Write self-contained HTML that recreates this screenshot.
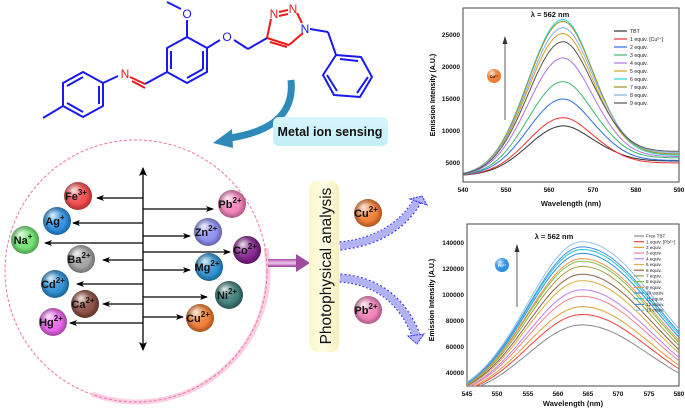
<!DOCTYPE html>
<html><head><meta charset="utf-8"><style>
html,body{margin:0;padding:0;background:#fff;width:685px;height:408px;overflow:hidden}
svg{display:block;font-family:"Liberation Sans",Arial,sans-serif}
.b{font-weight:bold}
</style></head><body>
<svg id="s" width="685" height="408" viewBox="0 0 685 408" xmlns="http://www.w3.org/2000/svg">
<defs>
<radialGradient id="hl" cx="0.35" cy="0.3" r="0.6"><stop offset="0" stop-color="#fff" stop-opacity="0.85"/><stop offset="0.5" stop-color="#fff" stop-opacity="0.15"/><stop offset="1" stop-color="#fff" stop-opacity="0"/></radialGradient>
<radialGradient id="sh" cx="0.5" cy="0.5" r="0.5"><stop offset="0.6" stop-color="#000" stop-opacity="0"/><stop offset="1" stop-color="#000" stop-opacity="0.3"/></radialGradient>
<linearGradient id="yb" x1="0" x2="1"><stop offset="0" stop-color="#fbf6c8"/><stop offset="0.5" stop-color="#fffde8"/><stop offset="1" stop-color="#f8f0b8"/></linearGradient>
<linearGradient id="cb" x1="0" y1="0" x2="0" y2="1"><stop offset="0" stop-color="#d8f6fc"/><stop offset="1" stop-color="#c2eef8"/></linearGradient>
<linearGradient id="pa" x1="0" y1="0" x2="0" y2="1"><stop offset="0" stop-color="#b050a8"/><stop offset="0.5" stop-color="#f0c8ec"/><stop offset="1" stop-color="#9a3a96"/></linearGradient>
<marker id="ah" markerWidth="8" markerHeight="6" refX="7" refY="3" orient="auto" markerUnits="userSpaceOnUse"><path d="M0,0 L8,3 L0,6 L2,3Z" fill="#000"/></marker>
<marker id="ah2" markerWidth="9" markerHeight="8" refX="8" refY="4" orient="auto-start-reverse" markerUnits="userSpaceOnUse"><path d="M0,0 L9,4 L0,8 L2,4Z" fill="#000"/></marker>
<clipPath id="c1"><rect x="463" y="8" width="216" height="174"/></clipPath>
<clipPath id="c2"><rect x="467" y="224" width="212" height="162"/></clipPath>
</defs>

<!-- molecule -->
<g fill="none" stroke="#1a1aee" stroke-width="2" stroke-linejoin="round">
<polygon points="63,83 83,72 103,83 103,106 83,117 63,106"/>
<line x1="67" y1="86" x2="83" y2="77"/><line x1="99" y1="86" x2="99" y2="104"/><line x1="67" y1="103" x2="83" y2="112"/>
<line x1="63" y1="106" x2="43" y2="118"/>
<line x1="103" y1="83" x2="118" y2="76"/>
<polygon points="167,48 187,37 207,48 207,72 187,83 167,72"/>
<line x1="171" y1="51" x2="171" y2="69"/><line x1="203" y1="51" x2="203" y2="69"/><line x1="187" y1="78" x2="203" y2="69"/>
<line x1="145" y1="84" x2="167" y2="72"/>
<line x1="187" y1="37" x2="187" y2="20"/><line x1="181" y1="9" x2="167" y2="2"/>
<line x1="207" y1="48" x2="220" y2="40"/><line x1="234" y1="40" x2="248" y2="49"/><line x1="248" y1="49" x2="267" y2="38"/>
<line x1="310" y1="29" x2="328" y2="32"/><line x1="328" y1="32" x2="336" y2="55"/>
<polygon points="336,55 361,57 372,77 360,97 334,95 323,75"/>
<line x1="340" y1="59" x2="358" y2="61"/><line x1="368" y1="77" x2="357" y2="93"/><line x1="327" y1="75" x2="337" y2="91"/>
</g>
<g fill="none" stroke="#ee1a1a" stroke-width="2">
<line x1="130" y1="77" x2="145" y2="84"/><line x1="132" y1="81" x2="145" y2="88"/>
<line x1="267" y1="38" x2="271" y2="19"/><line x1="267" y1="38" x2="289" y2="45"/><line x1="270" y1="42" x2="287" y2="47"/>
<line x1="289" y1="45" x2="303" y2="33"/>
<line x1="279" y1="12" x2="288" y2="10"/><line x1="279" y1="16" x2="288" y2="14"/>
<line x1="297" y1="13" x2="302" y2="23"/>
</g>
<g font-size="12" text-anchor="middle">
<text x="125" y="78" fill="#ee1a1a">N</text>
<text x="187" y="18" fill="#1a1aee">O</text>
<text x="227" y="41" fill="#1a1aee">O</text>
<text x="274" y="18" fill="#ee1a1a">N</text>
<text x="293" y="13" fill="#ee1a1a">N</text>
<text x="305" y="33" fill="#1a1aee">N</text>
</g>

<!-- blue curved arrow -->
<path d="M291,80 Q296,128 230,138" fill="none" stroke="#2e8ab8" stroke-width="7"/>
<path d="M232,129 L213,143 L233,148Z" fill="#2e8ab8"/>
<rect x="273" y="117" width="115" height="29" rx="6" fill="url(#cb)"/>
<text x="330" y="136" font-size="12.5" class="b" text-anchor="middle" fill="#111">Metal ion sensing</text>

<!-- circle -->
<path d="M266,248 A131,131 0 0 1 92,394" fill="none" stroke="#fbd0e4" stroke-width="5"/>
<circle cx="136" cy="271" r="131" fill="none" stroke="#f070a8" stroke-width="1" stroke-dasharray="3 2"/>

<!-- axis -->
<g stroke="#000" stroke-width="1.3">
<line x1="143" y1="168" x2="143" y2="350" marker-start="url(#ah2)" marker-end="url(#ah2)"/>
<line x1="143" y1="198" x2="97" y2="198" marker-end="url(#ah)"/>
<line x1="143" y1="223" x2="73" y2="223" marker-end="url(#ah)"/>
<line x1="143" y1="243" x2="45" y2="243" marker-end="url(#ah)"/>
<line x1="143" y1="260" x2="103" y2="260" marker-end="url(#ah)"/>
<line x1="143" y1="284" x2="77" y2="284" marker-end="url(#ah)"/>
<line x1="143" y1="304" x2="103" y2="304" marker-end="url(#ah)"/>
<line x1="143" y1="323" x2="70" y2="323" marker-end="url(#ah)"/>
<line x1="143" y1="209" x2="213" y2="209" marker-end="url(#ah)"/>
<line x1="143" y1="236" x2="190" y2="236" marker-end="url(#ah)"/>
<line x1="143" y1="252" x2="230" y2="252" marker-end="url(#ah)"/>
<line x1="143" y1="270" x2="190" y2="270" marker-end="url(#ah)"/>
<line x1="143" y1="297" x2="207" y2="297" marker-end="url(#ah)"/>
<line x1="143" y1="317" x2="183" y2="317" marker-end="url(#ah)"/>
</g>

<g id="balls" font-size="11" class="b" text-anchor="middle"></g>

<!-- purple arrow -->
<rect x="268" y="259" width="30" height="8" fill="url(#pa)"/>
<path d="M296,254 L310,263 L296,272Z" fill="#a04aa0"/>
<rect x="309" y="181" width="30" height="171" rx="8" fill="url(#yb)"/>
<text transform="translate(331,266) rotate(-90)" font-size="15.5" text-anchor="middle" fill="#111">Photophysical analysis</text>

<!-- dashed blue arrows -->
<path d="M340,246 Q395,240 418,200" fill="none" stroke="#2a2aee" stroke-width="9" stroke-dasharray="2 2"/>
<path d="M340,246 Q395,240 418,200" fill="none" stroke="#b2b2f6" stroke-width="7"/>
<path d="M410,199 L422,196 L427,205Z" fill="#b2b2f6" stroke="#2a2aee" stroke-dasharray="2 1"/>
<path d="M340,278 Q395,282 416,335" fill="none" stroke="#2a2aee" stroke-width="9" stroke-dasharray="2 2"/>
<path d="M340,278 Q395,282 416,335" fill="none" stroke="#b2b2f6" stroke-width="7"/>
<path d="M408,336 L417,344 L424,334Z" fill="#b2b2f6" stroke="#2a2aee" stroke-dasharray="2 1"/>

<!-- top chart -->
<rect x="463" y="8" width="216" height="174" fill="none" stroke="#444" stroke-width="1"/>
<g id="curves1" clip-path="url(#c1)" fill="none" stroke-width="1"></g>
<g font-size="6.5" class="b" fill="#111" text-anchor="end">
<text x="460" y="165">5000</text><text x="460" y="133">10000</text><text x="460" y="101">15000</text><text x="460" y="69">20000</text><text x="460" y="37">25000</text>
</g>
<g font-size="6.5" class="b" fill="#111" text-anchor="middle">
<text x="463" y="192">540</text><text x="506" y="192">550</text><text x="549" y="192">560</text><text x="593" y="192">570</text><text x="636" y="192">580</text><text x="679" y="192">590</text>
<text x="571" y="206" font-size="7.5">Wavelength (nm)</text>
<text x="550" y="17" font-size="7.5">λ = 562 nm</text>
</g>
<text transform="translate(435,95) rotate(-90)" font-size="7" class="b" text-anchor="middle">Emission Intensity (A.U.)</text>
<line x1="505" y1="120" x2="505" y2="37" stroke="#333" stroke-width="0.8"/>
<path d="M502.5,44 L505,36 L507.5,44Z" fill="#333"/>
<circle cx="494" cy="76" r="7" fill="#f07a30"/><circle cx="494" cy="76" r="7" fill="url(#hl)"/>
<text x="494" y="78" font-size="4" text-anchor="middle" class="b">Cu²⁺</text>
<g id="leg1" font-size="5.2" fill="#222"></g>

<!-- bottom chart -->
<rect x="467" y="224" width="212" height="162" fill="none" stroke="#444" stroke-width="1"/>
<g id="curves2" clip-path="url(#c2)" fill="none" stroke-width="1"></g>
<g font-size="6.5" class="b" fill="#111" text-anchor="end">
<text x="464" y="375">40000</text><text x="464" y="349">60000</text><text x="464" y="323">80000</text><text x="464" y="297">100000</text><text x="464" y="271">120000</text><text x="464" y="245">140000</text>
</g>
<g font-size="6.5" class="b" fill="#111" text-anchor="middle">
<text x="467" y="396">545</text><text x="497" y="396">550</text><text x="528" y="396">555</text><text x="558" y="396">560</text><text x="588" y="396">565</text><text x="618" y="396">570</text><text x="649" y="396">575</text><text x="679" y="396">580</text>
<text x="573" y="406" font-size="7.5">Wavelength (nm)</text>
<text x="554" y="239" font-size="7.5">λ = 562 nm</text>
</g>
<text transform="translate(434,300) rotate(-90)" font-size="7" class="b" text-anchor="middle">Emission Intensity (A.U.)</text>
<line x1="517" y1="307" x2="517" y2="245" stroke="#333" stroke-width="0.8"/>
<path d="M514.5,252 L517,244 L519.5,252Z" fill="#333"/>
<circle cx="502" cy="265" r="7" fill="#2a8ee0"/><circle cx="502" cy="265" r="7" fill="url(#hl)"/>
<text x="502" y="267" font-size="4" text-anchor="middle" class="b" fill="#fff">Pb²⁺</text>
<g id="leg2" font-size="4.6" fill="#222"></g>
<g display="none">TBT 1 equiv. [Cu²⁺] Free TBT [Pb²⁺] equiv.</g>
</svg>
<script>
var NS="http://www.w3.org/2000/svg";
function el(t,a,p){var e=document.createElementNS(NS,t);for(var k in a)e.setAttribute(k,a[k]);p.appendChild(e);return e;}
var bg=document.getElementById("balls");
var balls=[["Fe","3+",78,196,"#f04848"],["Ag","+",57,221,"#2a8ee0"],["Na","+",25,240,"#6ee06e"],["Ba","2+",81,259,"#a0a0a0"],["Cd","2+",55,284,"#2a8cd0"],["Ca","2+",85,304,"#8a4a3e"],["Hg","2+",53,322,"#e860e8"],["Pb","2+",232,204,"#f080b8"],["Zn","2+",208,232,"#8a8ef0"],["Co","2+",247,250,"#80208a"],["Mg","2+",209,267,"#2a90d0"],["Ni","2+",229,295,"#3c7a78"],["Cu","2+",200,318,"#f07a30"],["Cu","2+",368,213,"#f07a30"],["Pb","2+",368,310,"#f080b8"]];
balls.forEach(function(b){
 el("circle",{cx:b[2],cy:b[3],r:14,fill:b[4]},bg);
 el("circle",{cx:b[2],cy:b[3],r:14,fill:"url(#hl)"},bg);
 el("circle",{cx:b[2],cy:b[3],r:14,fill:"url(#sh)"},bg);
 var t=el("text",{x:b[2]-2,y:b[3]+4,fill:"#111"},bg);
 t.appendChild(document.createTextNode(b[0]));
 var s=el("tspan",{dy:-5,"font-size":8},t);s.appendChild(document.createTextNode(b[1]));
});
var c1=document.getElementById("curves1");
var col1=["#333","#f03030","#2a6ee8","#40b870","#b070e8","#d8a020","#20d8d8","#a09020","#80b0e8","#555"];
var pk1=[10700,12000,14900,17600,21300,25100,27300,27000,26000,23800];
var tl1=[2300,2000,2400,2800,3000,3300,3200,3400,3600,3800];
var lg1=document.getElementById("leg1");
var names1=["TBT","1 equiv. [Cu²⁺]","2 equiv.","3 equiv.","4 equiv.","5 equiv.","6 equiv.","7 equiv.","8 equiv.","9 equiv."];
pk1.forEach(function(P,i){
 var d="";
 for(var x=540;x<=590.01;x+=0.5){
  var s=x<563?8:7.2;var g=Math.exp(-Math.pow(x-563,2)/(2*s*s));
  var tail=tl1[i]/(1+Math.exp(-(x-571)/2.5));
  var v=3000+(P-3000)*g+tail;
  var px=463+(x-540)*4.32, py=163-(v-5000)/5000*32;
  d+=(d?"L":"M")+px.toFixed(1)+","+py.toFixed(1);
 }
 el("path",{d:d,stroke:col1[i]},c1);
 var y=31+i*8;
 el("line",{x1:614,y1:y,x2:627,y2:y,stroke:col1[i],"stroke-width":1.2},lg1);
 var t=el("text",{x:630,y:y+2},lg1);t.appendChild(document.createTextNode(names1[i]));
});
var c2=document.getElementById("curves2");
var col2=["#888","#f04040","#e0a030","#f08090","#c080f0","#d8b040","#906050","#a0a040","#80c040","#f09050","#2a8ee8","#20c8d8","#4a90e0","#90c0f0"];
var pk2=[77000,85000,91000,99000,104000,111000,116000,122000,126000,128000,132000,135000,137000,141000];
var lg2=document.getElementById("leg2");
var names2=["Free TBT","1 equiv. [Pb²⁺]","2 equiv.","3 equiv.","4 equiv.","5 equiv.","6 equiv.","7 equiv.","8 equiv.","9 equiv.","10 equiv.","11 equiv.","12 equiv.","13 equiv."];
pk2.forEach(function(P,i){
 var d="";
 for(var x=545;x<=580.01;x+=0.5){
  var s=x<564?9:(11+i*0.12);var g=Math.exp(-Math.pow(x-564,2)/(2*s*s));
  var v=20000+(P-20000)*g;
  var px=467+(x-545)*6.06, py=373-(v-40000)/20000*26;
  d+=(d?"L":"M")+px.toFixed(1)+","+py.toFixed(1);
 }
 el("path",{d:d,stroke:col2[i]},c2);
 var y=236+i*5.7;
 el("line",{x1:634,y1:y,x2:644,y2:y,stroke:col2[i],"stroke-width":1.2},lg2);
 var t=el("text",{x:646,y:y+1.6},lg2);t.appendChild(document.createTextNode(names2[i]));
});
</script>
</body></html>
